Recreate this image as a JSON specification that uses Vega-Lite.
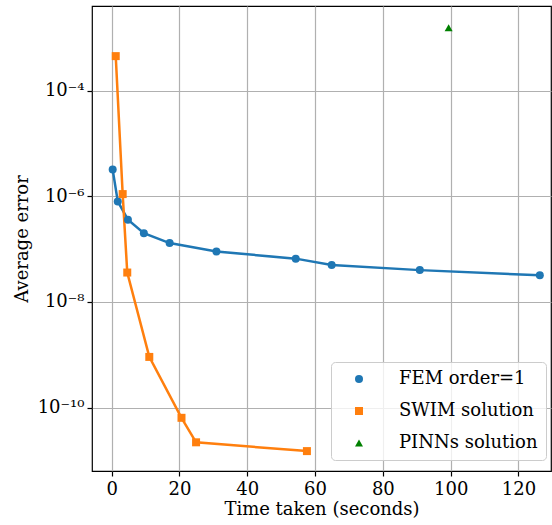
{
  "$schema": "https://vega.github.io/schema/vega-lite/v6.json",
  "width": 459,
  "height": 465,
  "autosize": {"type": "none"},
  "padding": {"left": 92, "top": 6, "right": 1, "bottom": 54},
  "background": "white",
  "config": {
    "view": {"stroke": "#000000", "strokeWidth": 1.2},
    "font": "DejaVu Serif",
    "axis": {
      "labelFont": "DejaVu Serif",
      "titleFont": "DejaVu Serif",
      "labelFontSize": 18,
      "titleFontSize": 18,
      "titleFontWeight": "normal",
      "labelColor": "#000000",
      "titleColor": "#000000",
      "domain": false,
      "tickColor": "#000000",
      "tickSize": 5,
      "tickWidth": 1.2,
      "gridColor": "#b0b0b0",
      "gridWidth": 1.2
    },
    "legend": {
      "labelFont": "DejaVu Serif",
      "labelFontSize": 18,
      "labelColor": "#000000"
    }
  },
  "data": {
    "values": [
      {"series": "FEM order=1", "time": 0.3, "error": 3.2e-6},
      {"series": "FEM order=1", "time": 1.8, "error": 8.0e-7},
      {"series": "FEM order=1", "time": 4.8, "error": 3.6e-7},
      {"series": "FEM order=1", "time": 9.5, "error": 2.0e-7},
      {"series": "FEM order=1", "time": 17.1, "error": 1.3e-7},
      {"series": "FEM order=1", "time": 30.9, "error": 9.0e-8},
      {"series": "FEM order=1", "time": 54.3, "error": 6.6e-8},
      {"series": "FEM order=1", "time": 64.9, "error": 5.0e-8},
      {"series": "FEM order=1", "time": 90.9, "error": 4.0e-8},
      {"series": "FEM order=1", "time": 126.3, "error": 3.2e-8},
      {"series": "SWIM solution", "time": 1.2, "error": 4.5e-4},
      {"series": "SWIM solution", "time": 3.25, "error": 1.1e-6},
      {"series": "SWIM solution", "time": 4.6, "error": 3.6e-8},
      {"series": "SWIM solution", "time": 11.1, "error": 9.1e-10},
      {"series": "SWIM solution", "time": 20.6, "error": 6.4e-11},
      {"series": "SWIM solution", "time": 24.9, "error": 2.2e-11},
      {"series": "SWIM solution", "time": 57.6, "error": 1.5e-11},
      {"series": "PINNs solution", "time": 99.4, "error": 1.55e-3}
    ]
  },
  "encoding": {
    "x": {
      "field": "time",
      "type": "quantitative",
      "scale": {"domain": [-5.8, 129.6], "nice": false, "zero": false},
      "axis": {
        "values": [0, 20, 40, 60, 80, 100, 120],
        "title": "Time taken (seconds)",
        "labelPadding": 4,
        "titlePadding": 2
      }
    },
    "y": {
      "field": "error",
      "type": "quantitative",
      "scale": {"type": "log", "domain": [6.3e-12, 4.0e-3], "nice": false},
      "axis": {
        "values": [1e-10, 1e-8, 1e-6, 1e-4],
        "title": "Average error",
        "labelPadding": 3,
        "titlePadding": 6,
        "labelExpr": "round(log(datum.value)/LN10) == -4 ? '10⁻⁴' : round(log(datum.value)/LN10) == -6 ? '10⁻⁶' : round(log(datum.value)/LN10) == -8 ? '10⁻⁸' : '10⁻¹⁰'"
      }
    }
  },
  "layer": [
    {
      "transform": [{"filter": "datum.series != 'PINNs solution'"}],
      "mark": {"type": "line", "strokeWidth": 2.5, "clip": true},
      "encoding": {
        "color": {
          "field": "series",
          "type": "nominal",
          "scale": {
            "domain": ["FEM order=1", "SWIM solution", "PINNs solution"],
            "range": ["#1f77b4", "#ff7f0e", "#008000"]
          }
        }
      }
    },
    {
      "mark": {"type": "point", "filled": true, "opacity": 1, "size": 64},
      "encoding": {
        "color": {
          "field": "series",
          "type": "nominal",
          "scale": {
            "domain": ["FEM order=1", "SWIM solution", "PINNs solution"],
            "range": ["#1f77b4", "#ff7f0e", "#008000"]
          },
          "legend": {
            "title": null,
            "orient": "none",
            "legendX": 239,
            "legendY": 356,
            "padding": 8,
            "fillColor": "rgba(255,255,255,0.8)",
            "strokeColor": "#cccccc",
            "cornerRadius": 4,
            "symbolOffset": 11,
            "symbolStrokeWidth": 0,
            "labelOffset": 31,
            "rowPadding": 14
          }
        },
        "shape": {
          "field": "series",
          "type": "nominal",
          "scale": {
            "domain": ["FEM order=1", "SWIM solution", "PINNs solution"],
            "range": ["circle", "square", "triangle-up"]
          },
          "legend": null
        },
        "size": {
          "field": "series",
          "type": "nominal",
          "scale": {
            "domain": ["FEM order=1", "SWIM solution", "PINNs solution"],
            "range": [64, 64, 90]
          },
          "legend": null
        }
      }
    }
  ]
}
